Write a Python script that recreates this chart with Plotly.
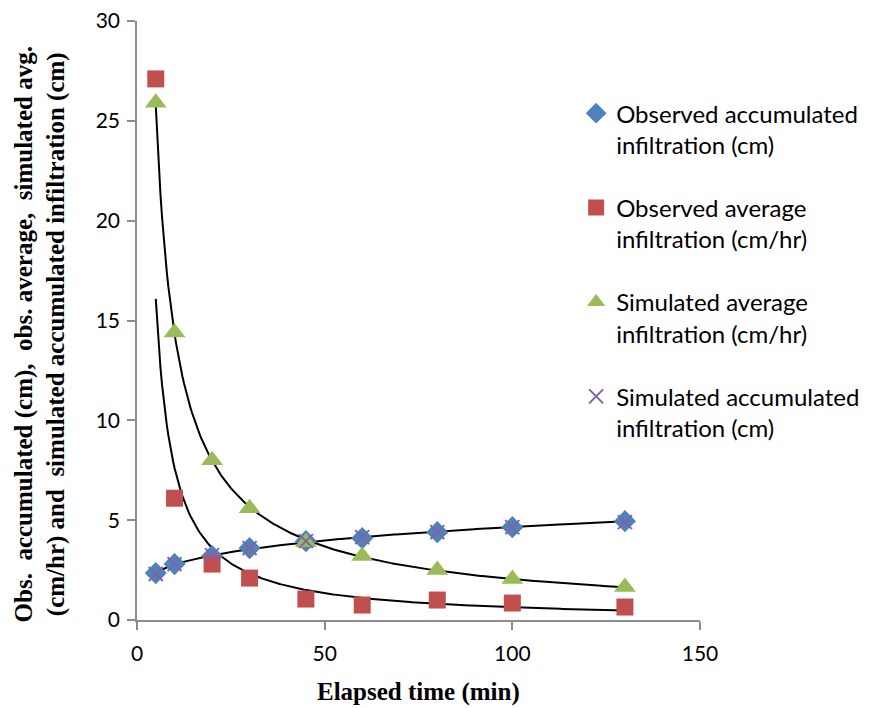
import numpy as np
import plotly.graph_objects as go

time_min = [5, 10, 20, 30, 45, 60, 80, 100, 130]
obs_accum = [2.35, 2.8, 3.2, 3.6, 3.95, 4.1, 4.4, 4.65, 4.95]
obs_avg = [27.1, 6.1, 2.8, 2.1, 1.05, 0.75, 1.0, 0.85, 0.65]
sim_avg = [25.9, 14.4, 8.0, 5.6, 3.9, 3.2, 2.5, 2.05, 1.65]
sim_accum = [2.3, 2.8, 3.25, 3.6, 3.95, 4.15, 4.4, 4.65, 4.9]

names = ["Observed accumulated<br>infiltration (cm)",
         "Observed average<br>infiltration (cm/hr)",
         "Simulated average<br>infiltration (cm/hr)",
         "Simulated accumulated<br>infiltration (cm)"]

x_ticks = [0, 50, 100, 150]
y_ticks = [0, 5, 10, 15, 20, 25, 30]

x = np.array(time_min, dtype=float)


def power_fit(y):
    b, lna = np.polyfit(np.log(x), np.log(np.array(y, dtype=float)), 1)
    xs = np.linspace(x.min(), x.max(), 300)
    return xs, np.exp(lna) * xs ** b


fig = go.Figure()

# trendlines (Excel-style power fits computed from the data)
for ys in (obs_accum, obs_avg, sim_avg):
    xs, yf = power_fit(ys)
    fig.add_trace(go.Scatter(x=xs, y=yf, mode="lines", line=dict(color="black", width=2),
                             showlegend=False, hoverinfo="skip"))

series = [
    (obs_accum, "diamond", "#4F81BD", 17),
    (obs_avg, "square", "#C0504D", 17),
    (sim_avg, "triangle-up", "#9BBB59", 19),
    (sim_accum, "x-thin", "#8064A2", 14),
]
for i, (ys, sym, col, sz) in enumerate(series):
    mk = dict(symbol=sym, color=col, size=sz)
    if sym == "x-thin":
        mk["line"] = dict(color=col, width=2)
    fig.add_trace(go.Scatter(x=time_min, y=ys, mode="markers", name=names[i],
                             marker=mk, legendgroup=str(i)))

axis_common = dict(showgrid=False, zeroline=False, showline=True, linecolor="#8C8C8C",
                   linewidth=1.5, ticks="outside", tickcolor="#8C8C8C", ticklen=8,
                   tickwidth=1.5, ticklabeloverflow="allow", automargin=False,
                   tickfont=dict(family="Lato", size=21, color="black"))

fig.update_layout(
    width=871, height=708,
    paper_bgcolor="white", plot_bgcolor="white",
    margin=dict(l=129, r=179, t=13, b=96, autoexpand=False),
    xaxis=dict(range=[0, 150], tickvals=x_ticks, ticklabelstandoff=6, **axis_common),
    yaxis=dict(range=[0, 30], tickvals=y_ticks, ticklabelstandoff=3, **axis_common),
    legend=dict(x=0.78, y=0.883, xanchor="left", yanchor="top", valign="top",
                font=dict(family="Lato", size=24, color="black"),
                traceorder="grouped", tracegroupgap=29, bgcolor="rgba(0,0,0,0)",
                itemwidth=30),
    showlegend=True,
    annotations=[
        dict(text="<b>Elapsed time (min)</b>", xref="paper", yref="paper",
             x=0.5, y=-0.12, xanchor="center", yanchor="middle", showarrow=False,
             font=dict(family="Liberation Serif", size=25, color="black")),
        dict(text="<b>Obs.&nbsp; accumulated (cm),&nbsp; obs. average,&nbsp; simulated avg.<br>(cm/hr) and&nbsp; simulated accumulated infiltration (cm)</b>",
             xref="paper", yref="paper", x=-0.172, y=0.477, xanchor="center", yanchor="middle",
             textangle=-90, showarrow=False,
             font=dict(family="Liberation Serif", size=25, color="black")),
    ],
)

fig.write_html("out.html")
